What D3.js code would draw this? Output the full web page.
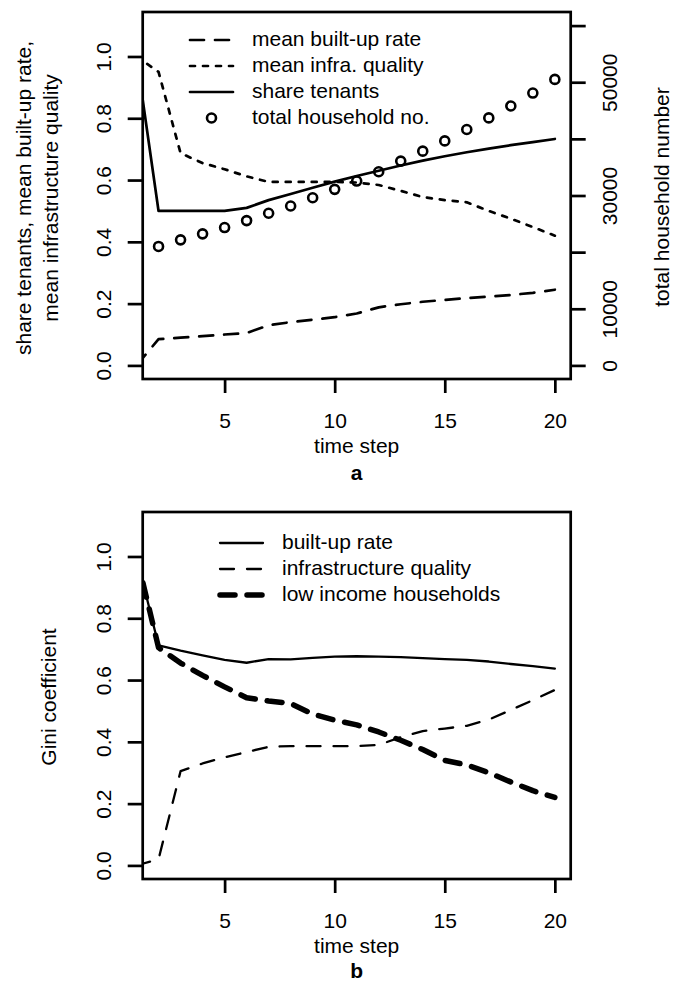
<!DOCTYPE html>
<html lang="en">
<head>
<meta charset="utf-8">
<title>time step panels</title>
<script src="https://cdnjs.cloudflare.com/ajax/libs/d3/7.8.5/d3.min.js"></script>
<style>
  body { margin: 0; background: #fff; }
  svg { display: block; font-family: "Liberation Sans", Arial, sans-serif; }
  .lab { font-size: 21px; fill: #000; }
  .tick text { font-size: 21px; fill: #000; font-family: "Liberation Sans", Arial, sans-serif; }
  .tick line { stroke: #000; stroke-width: 2.7px; }
  .line { fill: none; stroke: #000; stroke-linecap: round; stroke-linejoin: round; }
</style>
</head>
<body>
<svg id="chart" width="684" height="983"></svg>
<script>

// ---- data ----
var steps = [1, 2, 3, 4, 5, 6, 7, 8, 9, 10, 11, 12, 13, 14, 15, 16, 17, 18, 19, 20];

// panel a
var meanBuiltUp = [0.00, 0.085, 0.090, 0.095, 0.100, 0.105, 0.130, 0.140, 0.148, 0.156,
                   0.168, 0.188, 0.198, 0.206, 0.212, 0.218, 0.223, 0.228, 0.235, 0.245];
var meanInfra   = [1.00, 0.950, 0.687, 0.655, 0.635, 0.612, 0.594, 0.594, 0.594, 0.594,
                   0.592, 0.584, 0.565, 0.545, 0.535, 0.528, 0.500, 0.475, 0.448, 0.420];
var shareTenants = [1.00, 0.500, 0.500, 0.500, 0.500, 0.510, 0.535, 0.555, 0.575, 0.595,
                    0.613, 0.630, 0.647, 0.663, 0.677, 0.690, 0.702, 0.713, 0.723, 0.733];
var householdSteps = [2, 3, 4, 5, 6, 7, 8, 9, 10, 11, 12, 13, 14, 15, 16, 17, 18, 19, 20];
var households = [21000, 22170, 23230, 24340, 25570, 26870, 28150, 29600, 31090, 32550,
                  34190, 36070, 37830, 39640, 41650, 43700, 45800, 48090, 50500];

// panel b
var giniBuiltUp = [1.00, 0.712, 0.695, 0.680, 0.665, 0.656, 0.668, 0.667, 0.672, 0.676,
                   0.677, 0.676, 0.674, 0.671, 0.668, 0.665, 0.660, 0.652, 0.645, 0.637];
var giniInfra   = [0.00, 0.020, 0.305, 0.330, 0.350, 0.367, 0.384, 0.386, 0.386, 0.386,
                   0.386, 0.390, 0.415, 0.435, 0.443, 0.452, 0.472, 0.503, 0.535, 0.568];
var giniLowIncome = [1.00, 0.705, 0.655, 0.615, 0.578, 0.543, 0.532, 0.524, 0.490, 0.470,
                     0.455, 0.432, 0.405, 0.375, 0.340, 0.325, 0.300, 0.270, 0.242, 0.220];

var xTicks = [5, 10, 15, 20];
var yTicks = [0, 0.2, 0.4, 0.6, 0.8, 1.0];
var yTickLabels = ["0.0", "0.2", "0.4", "0.6", "0.8", "1.0"];
var rightTicks = [0, 10000, 20000, 30000, 40000, 50000, 60000];
var rightTickLabels = ["0", "10000", "", "30000", "", "50000", ""];

var legendA = ["mean built-up rate", "mean infra. quality", "share tenants", "total household no."];
var legendB = ["built-up rate", "infrastructure quality", "low income households"];

// ---- layout ----
var svg = d3.select("#chart");
var box = {left: 142.7, right: 570.7, top: 12, bottom: 379};
var lw = 2.7;

// R style: xlim c(2,20) and ylim c(0,1.1) with 4% padding
var x = d3.scaleLinear().domain([1.28, 20.72]).range([box.left, box.right]);
var y = d3.scaleLinear().domain([-0.044, 1.144]).range([box.bottom, box.top]);
var yRight = d3.scaleLinear().domain([-2400, 62400]).range([box.bottom, box.top]);

function panel(dy, id) {
  var g = svg.append("g").attr("transform", "translate(0," + dy + ")");

  g.append("clipPath").attr("id", id)
    .append("rect")
      .attr("x", box.left).attr("y", box.top)
      .attr("width", box.right - box.left).attr("height", box.bottom - box.top);

  var xa = g.append("g")
      .attr("transform", "translate(0," + box.bottom + ")")
      .call(d3.axisBottom(x).tickValues(xTicks).tickSize(14).tickSizeOuter(0));
  xa.select(".domain").remove();
  xa.selectAll("text").attr("y", 49).attr("dy", null);

  var ya = g.append("g")
      .attr("transform", "translate(" + box.left + ",0)")
      .call(d3.axisLeft(y).tickValues(yTicks).tickSize(15).tickSizeOuter(0)
              .tickFormat(function(d, i) { return yTickLabels[i]; }));
  ya.select(".domain").remove();
  ya.selectAll("text")
      .attr("x", null).attr("dy", null)
      .attr("text-anchor", "middle")
      .attr("transform", "translate(-31.5,0) rotate(-90)");

  g.append("text").attr("class", "lab")
      .attr("x", (box.left + box.right) / 2).attr("y", 453)
      .attr("text-anchor", "middle")
      .text("time step");

  var plot = g.append("g").attr("clip-path", "url(#" + id + ")");
  return {g: g, plot: plot};
}

function drawLine(plot, values, width, dash) {
  var line = d3.line()
      .x(function(d, i) { return x(steps[i]); })
      .y(function(d) { return y(d); });
  plot.append("path")
      .datum(values)
      .attr("class", "line")
      .attr("d", line)
      .style("stroke-width", width)
      .style("stroke-dasharray", dash);
}

function legendRow(g, i, x0, x1, tx, y0, label, width, dash, circle) {
  var yy = y0 + i * 26;
  if (circle) {
    g.append("circle")
        .attr("cx", (x0 + x1) / 2).attr("cy", yy).attr("r", 4.5)
        .attr("fill", "none").attr("stroke", "#000").attr("stroke-width", 2.6);
  } else {
    g.append("line")
        .attr("class", "line")
        .attr("x1", x0).attr("x2", x1).attr("y1", yy).attr("y2", yy)
        .style("stroke-width", width)
        .style("stroke-dasharray", dash);
  }
  g.append("text").attr("class", "lab")
      .attr("x", tx).attr("y", yy + 6)
      .text(label);
}

// ---- panel a ----
var a = panel(0, "clipA");

drawLine(a.plot, meanBuiltUp, lw, "14,11");
drawLine(a.plot, meanInfra, lw, "5,8");
drawLine(a.plot, shareTenants, lw, null);

a.plot.selectAll(".hh")
  .data(households)
  .enter().append("circle")
    .attr("class", "hh")
    .attr("cx", function(d, i) { return x(householdSteps[i]); })
    .attr("cy", function(d) { return yRight(d); })
    .attr("r", 4.5)
    .attr("fill", "none").attr("stroke", "#000").attr("stroke-width", 2.6);

var ra = a.g.append("g")
    .attr("transform", "translate(" + box.right + ",0)")
    .call(d3.axisRight(yRight).tickValues(rightTicks).tickSize(15).tickSizeOuter(0)
            .tickFormat(function(d, i) { return rightTickLabels[i]; }));
ra.select(".domain").remove();
ra.selectAll("text")
    .attr("x", null).attr("dy", null)
    .attr("text-anchor", "middle")
    .attr("transform", "translate(46.5,0) rotate(-90)");

a.g.append("text").attr("class", "lab")
    .attr("transform", "translate(31,198) rotate(-90)")
    .attr("text-anchor", "middle")
    .text("share tenants, mean built-up rate,");
a.g.append("text").attr("class", "lab")
    .attr("transform", "translate(58,198) rotate(-90)")
    .attr("text-anchor", "middle")
    .text("mean infrastructure quality");
a.g.append("text").attr("class", "lab")
    .attr("transform", "translate(669,197) rotate(-90)")
    .attr("text-anchor", "middle")
    .text("total household number");
a.g.append("text").attr("class", "lab")
    .attr("x", (box.left + box.right) / 2).attr("y", 480)
    .attr("text-anchor", "middle")
    .style("font-weight", "bold")
    .text("a");

legendRow(a.g, 0, 190, 233, 252, 40, legendA[0], lw, "14,11", false);
legendRow(a.g, 1, 190, 233, 252, 40, legendA[1], lw, "5,8", false);
legendRow(a.g, 2, 190, 233, 252, 40, legendA[2], lw, null, false);
legendRow(a.g, 3, 190, 233, 252, 40, legendA[3], lw, null, true);

a.g.append("rect")
    .attr("x", box.left).attr("y", box.top)
    .attr("width", box.right - box.left).attr("height", box.bottom - box.top)
    .attr("fill", "none").attr("stroke", "#000").attr("stroke-width", lw);

// ---- panel b ----
var b = panel(500, "clipB");

drawLine(b.plot, giniBuiltUp, 2.3, null);
drawLine(b.plot, giniInfra, 2.3, "14,13");
drawLine(b.plot, giniLowIncome, 5.5, "15,12");

b.g.append("text").attr("class", "lab")
    .attr("transform", "translate(56,197) rotate(-90)")
    .attr("text-anchor", "middle")
    .text("Gini coefficient");
b.g.append("text").attr("class", "lab")
    .attr("x", (box.left + box.right) / 2).attr("y", 478)
    .attr("text-anchor", "middle")
    .style("font-weight", "bold")
    .text("b");

legendRow(b.g, 0, 220, 263, 282, 43, legendB[0], 2.3, null, false);
legendRow(b.g, 1, 220, 263, 282, 43, legendB[1], 2.3, "14,13", false);
legendRow(b.g, 2, 220, 263, 282, 43, legendB[2], 5.5, "15,12", false);

b.g.append("rect")
    .attr("x", box.left).attr("y", box.top)
    .attr("width", box.right - box.left).attr("height", box.bottom - box.top)
    .attr("fill", "none").attr("stroke", "#000").attr("stroke-width", lw);

</script>
</body>
</html>
